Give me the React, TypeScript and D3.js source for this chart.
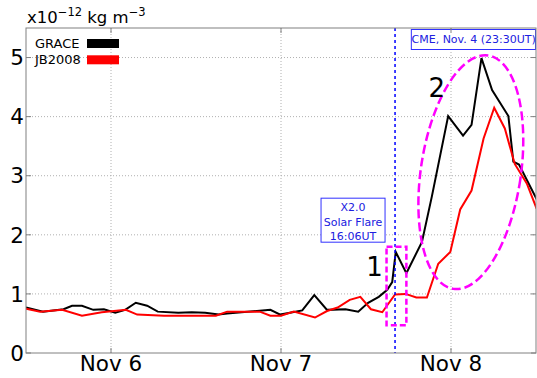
import React, { useEffect, useRef } from 'react';
import * as d3 from 'd3';

// hours after Nov 5 00:00 (2004) and densities in 1e-12 kg m^-3
const graceHours = [12.0, 14.4, 17.3, 18.5, 19.9, 21.5, 23.0, 24.6, 26.0, 27.5, 29.1, 30.6, 33.5, 35.4, 37.3, 39.2, 40.4, 44.6, 46.5, 47.9, 51.0, 52.7, 54.5, 57.1, 58.9, 60.3, 61.8, 63.0, 63.7, 64.2, 65.7, 67.9, 69.3, 71.6, 73.7, 74.9, 76.3, 77.8, 80.1, 80.8, 81.6, 84.1];
const graceValues = [0.77, 0.70, 0.74, 0.80, 0.80, 0.73, 0.74, 0.68, 0.73, 0.85, 0.80, 0.70, 0.68, 0.69, 0.68, 0.65, 0.67, 0.71, 0.73, 0.65, 0.72, 0.98, 0.73, 0.74, 0.70, 0.85, 0.95, 1.07, 1.20, 1.71, 1.35, 1.88, 2.65, 4.01, 3.68, 3.86, 4.99, 4.45, 4.01, 3.24, 3.19, 2.60];

const jbHours = [12.0, 14.0, 17.1, 19.9, 22.7, 26.1, 27.7, 31.5, 38.8, 40.4, 45.0, 46.5, 48.0, 49.8, 52.8, 54.5, 56.0, 57.7, 59.2, 60.7, 62.3, 64.1, 65.6, 67.1, 68.6, 70.2, 71.9, 73.3, 74.9, 76.6, 78.1, 79.6, 81.0, 82.7, 84.1];
const jbValues = [0.75, 0.70, 0.73, 0.63, 0.69, 0.73, 0.65, 0.63, 0.63, 0.70, 0.70, 0.63, 0.63, 0.70, 0.60, 0.71, 0.77, 0.90, 0.95, 0.74, 0.69, 0.99, 1.00, 0.94, 0.94, 1.51, 1.71, 2.43, 2.75, 3.63, 4.15, 3.80, 3.20, 2.87, 2.44];

const yTicks = [0, 1, 2, 3, 4, 5];
const xTickDays = [6, 7, 8];
const xTickLabels = ['Nov 6', 'Nov 7', 'Nov 8'];
const seriesNames = ['GRACE', 'JB2008'];
const seriesColors = ['#000000', '#ff0000'];

const flareHour = 64.1;
const flareLines = ['X2.0', 'Solar Flare', '16:06UT'];
const cmeLabel = 'CME, Nov. 4 (23:30UT)';

const base = new Date(2004, 10, 5, 0, 0, 0).getTime();
const toDate = (h: number) => new Date(base + h * 3600 * 1000);

const App = () => {
  const ref = useRef<SVGSVGElement>(null);

  useEffect(() => {
    const W = 537, H = 378;
    const margin = { left: 26, right: 1, top: 28, bottom: 25 };
    const width = W - margin.left - margin.right;
    const height = H - margin.top - margin.bottom;
    const font = 'DejaVu Sans';

    const svg = d3.select(ref.current);
    svg.selectAll('*').remove();

    const x = d3.scaleTime().domain([toDate(12), toDate(84)]).range([0, width]);
    const y = d3.scaleLinear().domain([0, 5.5]).range([height, 0]);

    const g = svg.append('g').attr('transform', `translate(${margin.left},${margin.top})`);

    // grid
    const tickDates = xTickDays.map(d => new Date(2004, 10, d));
    g.selectAll('.vgrid').data(tickDates).enter().append('line')
      .attr('x1', d => x(d)).attr('x2', d => x(d)).attr('y1', 0).attr('y2', height)
      .attr('stroke', '#b0b0b0').attr('stroke-dasharray', '1,2');
    g.selectAll('.hgrid').data(yTicks.slice(1)).enter().append('line')
      .attr('x1', 0).attr('x2', width).attr('y1', d => y(d)).attr('y2', d => y(d))
      .attr('stroke', '#b0b0b0').attr('stroke-dasharray', '1,2');

    const clip = svg.append('clipPath').attr('id', 'plotclip');
    clip.append('rect').attr('width', width).attr('height', height);

    const line = d3.line<[Date, number]>().x(d => x(d[0])).y(d => y(d[1]));
    const grace: [Date, number][] = graceHours.map((h, i) => [toDate(h), graceValues[i]]);
    const jb: [Date, number][] = jbHours.map((h, i) => [toDate(h), jbValues[i]]);

    const plot = g.append('g').attr('clip-path', 'url(#plotclip)');
    plot.append('path').datum(grace).attr('d', line).attr('fill', 'none')
      .attr('stroke', seriesColors[0]).attr('stroke-width', 2);
    plot.append('path').datum(jb).attr('d', line).attr('fill', 'none')
      .attr('stroke', seriesColors[1]).attr('stroke-width', 2);

    // flare line
    g.append('line')
      .attr('x1', x(toDate(flareHour))).attr('x2', x(toDate(flareHour)))
      .attr('y1', 0).attr('y2', height)
      .attr('stroke', '#0000ff').attr('stroke-width', 1.5).attr('stroke-dasharray', '3,3');

    // magenta annotations
    const rx0 = x(toDate(62.9)), rx1 = x(toDate(65.7));
    g.append('rect')
      .attr('x', rx0).attr('y', y(1.8)).attr('width', rx1 - rx0).attr('height', y(0.47) - y(1.8))
      .attr('fill', 'none').attr('stroke', '#ff00ff').attr('stroke-width', 2.5)
      .attr('stroke-dasharray', '6,3');
    const ecx = x(toDate(74.8)), ecy = y(3.06);
    g.append('ellipse')
      .attr('cx', 0).attr('cy', 0).attr('rx', 50).attr('ry', 118)
      .attr('transform', `translate(${ecx},${ecy}) rotate(8.5)`)
      .attr('fill', 'none').attr('stroke', '#ff00ff').attr('stroke-width', 2.5)
      .attr('stroke-dasharray', '9,4');

    g.append('text').attr('x', x(toDate(61.2))).attr('y', y(1.31))
      .attr('text-anchor', 'middle').attr('font-family', font).attr('font-size', 26).text('1');
    g.append('text').attr('x', x(toDate(70.0))).attr('y', y(4.34))
      .attr('text-anchor', 'middle').attr('font-family', font).attr('font-size', 26).text('2');

    // flare box
    const fbx = x(toDate(flareHour)) - 74, fby = y(2.62);
    g.append('rect').attr('x', fbx).attr('y', fby).attr('width', 64).attr('height', 44)
      .attr('fill', '#ffffff').attr('stroke', '#3030ff').attr('stroke-width', 1);
    g.selectAll('.flaretxt').data(flareLines).enter().append('text')
      .attr('x', fbx + 32).attr('y', (d, i) => fby + 9 + i * 14.5)
      .attr('dy', '0.36em')
      .attr('text-anchor', 'middle').attr('font-family', font).attr('font-size', 11)
      .attr('fill', '#2020e0').text(d => d);

    // CME box
    const cbx = x(toDate(66.4)), cby = 1.5;
    g.append('rect').attr('x', cbx).attr('y', cby).attr('width', width - cbx - 0.5).attr('height', 20)
      .attr('fill', '#ffffff').attr('stroke', '#3030ff').attr('stroke-width', 1);
    g.append('text').attr('x', cbx + (width - cbx) / 2).attr('y', cby + 10).attr('dy', '0.36em')
      .attr('text-anchor', 'middle').attr('font-family', font).attr('font-size', 11)
      .attr('fill', '#2020e0').text(cmeLabel);

    // spines
    g.append('rect').attr('x', 0).attr('y', 0).attr('width', width).attr('height', height)
      .attr('fill', 'none').attr('stroke', '#808080').attr('stroke-width', 1);

    // ticks (inside, all four sides)
    const tl = 5;
    tickDates.forEach(d => {
      g.append('line').attr('x1', x(d)).attr('x2', x(d)).attr('y1', height).attr('y2', height - tl).attr('stroke', '#808080');
      g.append('line').attr('x1', x(d)).attr('x2', x(d)).attr('y1', 0).attr('y2', tl).attr('stroke', '#808080');
    });
    yTicks.forEach(v => {
      g.append('line').attr('x1', 0).attr('x2', tl).attr('y1', y(v)).attr('y2', y(v)).attr('stroke', '#808080');
      g.append('line').attr('x1', width).attr('x2', width - tl).attr('y1', y(v)).attr('y2', y(v)).attr('stroke', '#808080');
    });

    g.selectAll('.xlab').data(tickDates).enter().append('text')
      .attr('x', d => x(d)).attr('y', height + 18)
      .attr('text-anchor', 'middle').attr('font-family', font).attr('font-size', 21.5)
      .text((d, i) => xTickLabels[i]);
    g.selectAll('.ylab').data(yTicks).enter().append('text')
      .attr('x', -2).attr('y', d => y(d)).attr('dy', '0.36em')
      .attr('text-anchor', 'end').attr('font-family', font).attr('font-size', 21.5)
      .text(d => String(d));

    // unit label
    const ul = svg.append('text').attr('x', 27).attr('y', 22.5)
      .attr('font-family', font).attr('font-size', 16.5);
    ul.append('tspan').text('x10');
    ul.append('tspan').attr('font-size', 11.5).attr('dy', -7).text('\u221212');
    ul.append('tspan').attr('dy', 7).text(' kg m');
    ul.append('tspan').attr('font-size', 11.5).attr('dy', -7).text('\u22123');

    // legend
    seriesNames.forEach((name, i) => {
      const ly = 43.5 + i * 16.3;
      svg.append('text').attr('x', 35).attr('y', ly).attr('dy', '0.36em')
        .attr('font-family', font).attr('font-size', 13).text(name);
      svg.append('rect').attr('x', 87).attr('y', ly - 4.5).attr('width', 32).attr('height', 9)
        .attr('fill', seriesColors[i]);
    });
  }, []);

  return (
    <svg ref={ref} width={537} height={378}
      style={{ position: 'absolute', left: 0, top: 0, background: '#ffffff' }} />
  );
};

export default App;
